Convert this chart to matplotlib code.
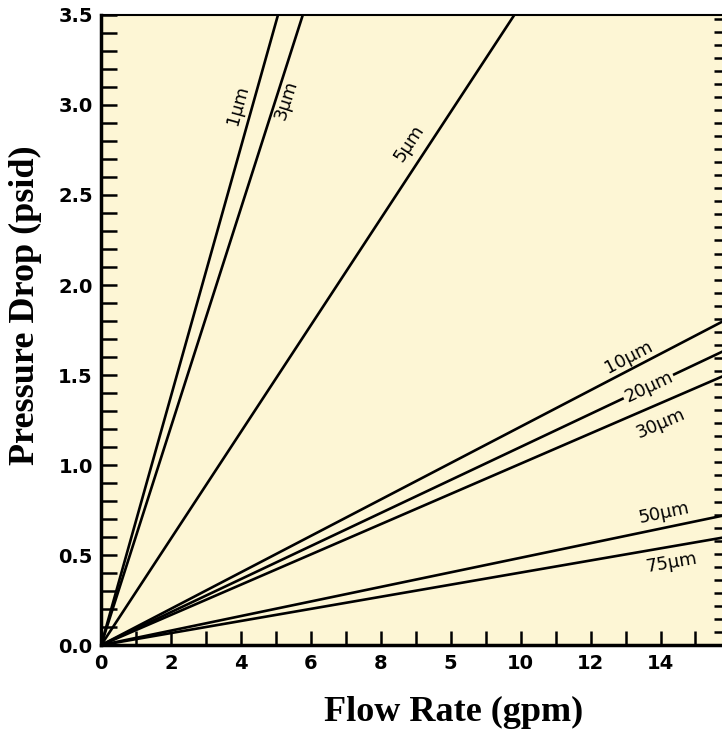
import numpy as np
import matplotlib
matplotlib.use("Agg")
import matplotlib.pyplot as plt
from matplotlib.ticker import MultipleLocator

# filter grades and where each line leaves the plot (flow, pressure drop)
grades = ["1µm", "3µm", "5µm", "10µm", "20µm", "30µm", "50µm", "75µm"]
end_flow = [5.06, 5.77, 11.82, 17.8, 17.8, 17.8, 17.8, 17.8]
end_dp = [3.5, 3.5, 3.5, 1.80, 1.633, 1.495, 0.72, 0.598]

# label anchor points (flow, pressure drop)
lab_x = [3.91, 5.29, 8.81, 15.09, 15.66, 16.0, 16.09, 16.32]
lab_y = [3.0, 3.03, 2.79, 1.60, 1.433, 1.233, 0.733, 0.456]

xtick_pos = [0, 2, 4, 6, 8, 10, 12, 14, 16]
xtick_lab = ["0", "2", "4", "6", "8", "5", "10", "12", "14"]
ytick_pos = [0.0, 0.5, 1.0, 1.5, 2.0, 2.5, 3.0, 3.5]

bg = "#FDF6D5"

fig = plt.figure(figsize=(7.22, 7.45), dpi=100)
ax = fig.add_axes([0.14, 0.134, 0.862, 0.846])
ax.set_facecolor(bg)

for i in range(len(grades)):
    ax.plot([0, end_flow[i]], [0, end_dp[i]], color="black", lw=1.9,
            solid_capstyle="butt", zorder=2)
    slope = end_dp[i] / end_flow[i]
    ang = np.degrees(np.arctan(slope))
    box = None
    if grades[i] == "20µm":
        box = dict(facecolor=bg, edgecolor="none", pad=1.0)
    ax.text(lab_x[i], lab_y[i], grades[i], rotation=ang,
            transform_rotates_text=True, rotation_mode="anchor",
            ha="center", va="center", fontsize=13, family="DejaVu Sans",
            bbox=box, zorder=3)

ax.set_xlim(0, 17.8)
ax.set_ylim(0, 3.5)

ax.set_xticks(xtick_pos)
ax.set_xticklabels(xtick_lab)
ax.xaxis.set_minor_locator(MultipleLocator(1))
ax.set_yticks(ytick_pos)
ax.set_yticklabels(["%.1f" % v for v in ytick_pos])
ax.yaxis.set_minor_locator(MultipleLocator(0.1))

ax.tick_params(axis="x", which="both", direction="in", length=10, width=1.8,
               pad=6, labelsize=14)
ax.tick_params(axis="y", which="both", direction="in", length=11.5, width=1.8,
               pad=6, labelsize=14, right=False)
for lab in ax.get_xticklabels() + ax.get_yticklabels():
    lab.set_fontweight("bold")
    lab.set_family("DejaVu Sans")

# right-hand scale ticks (no labels)
ax2 = ax.twinx()
ax2.set_ylim(0, 3.5)
ax2.yaxis.set_major_locator(MultipleLocator(0.0725))
ax2.tick_params(axis="y", direction="in", length=6.5, width=1.8, labelright=False)
for s in ax2.spines.values():
    s.set_visible(False)

ax.spines["left"].set_linewidth(2.5)
ax.spines["bottom"].set_linewidth(2.5)
ax.spines["top"].set_linewidth(1.5)
ax.spines["right"].set_visible(False)

ax.set_xlabel("Flow Rate (gpm)", family="Liberation Serif", fontweight="bold",
              fontsize=26)
ax.set_ylabel("Pressure Drop (psid)", family="Liberation Serif", fontweight="bold",
              fontsize=26)
ax.xaxis.set_label_coords(0.566, -0.08)
ax.yaxis.set_label_coords(-0.095, 0.54)

fig.savefig("out.png", dpi=100, facecolor="white")
